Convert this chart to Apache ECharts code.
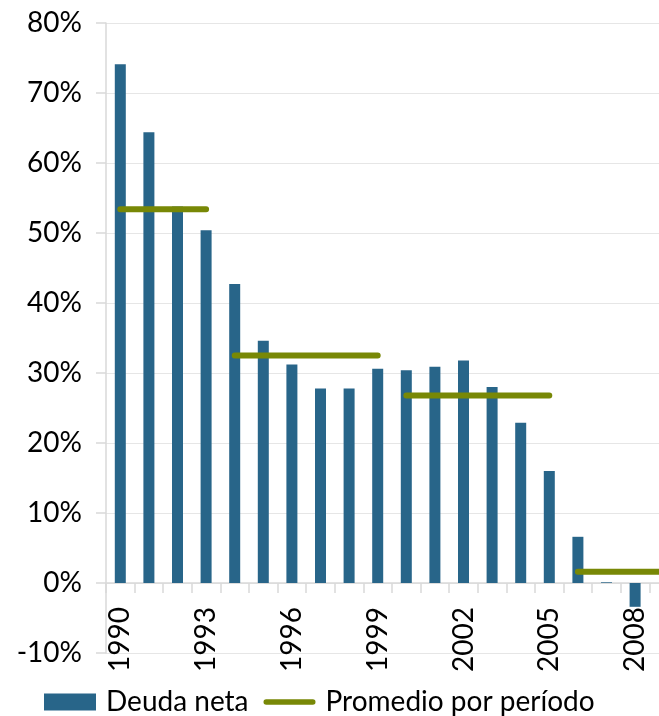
<!DOCTYPE html>
<html>
<head>
<meta charset="utf-8">
<script src="https://cdn.jsdelivr.net/npm/echarts@6/dist/echarts.min.js"></script>
<style>
html,body{margin:0;padding:0;background:#fff;}
#chart{width:659px;height:716px;}
</style>
</head>
<body>
<div id="chart"></div>
<script>
var years = ['1990','1991','1992','1993','1994','1995','1996','1997','1998','1999','2000','2001','2002','2003','2004','2005','2006','2007','2008','2009'];
var deudaNeta = [74.1, 64.4, 53.8, 50.4, 42.7, 34.6, 31.2, 27.8, 27.8, 30.6, 30.4, 30.9, 31.8, 28.0, 22.9, 16.0, 6.6, 0.1, -3.4, null];
var periodStart = ['1990','1994','2000','2006'];
var periodEnd = ['1993','1999','2005','2009'];
var periodAvg = [53.4, 32.5, 26.8, 1.6];
var yTicks = {min: -10, max: 80, interval: 10};

var FONT = 'Lato';
var barColor = '#286589';
var lineColor = '#788806';
var axisGray = '#d9d9d9';

var series = [{
  name: 'Deuda neta',
  type: 'bar',
  data: deudaNeta,
  barWidth: 11,
  itemStyle: {color: barColor},
  z: 2
}];
periodAvg.forEach(function (v, i) {
  var s = years.indexOf(periodStart[i]);
  var e = years.indexOf(periodEnd[i]);
  var d = years.map(function (y, k) { return (k >= s && k <= e) ? v : null; });
  series.push({
    name: 'Promedio por período',
    type: 'line',
    data: d,
    showSymbol: false,
    symbol: 'none',
    connectNulls: false,
    lineStyle: {color: lineColor, width: 6, cap: 'round'},
    itemStyle: {color: lineColor},
    z: 3
  });
});

var chart = echarts.init(document.getElementById('chart'), null, {renderer: 'canvas'});
chart.setOption({
  animation: false,
  backgroundColor: '#fff',
  grid: {left: 106, right: -19, top: 23, bottom: 63, containLabel: false, outerBoundsMode: 'none'},
  legend: {
    left: 39, top: 683,
    itemWidth: 52, itemHeight: 17, itemGap: 15,
    textStyle: {fontFamily: FONT, fontSize: 28, lineHeight: 25, color: '#000', padding: [0, 0, 0, 5]},
    data: [
      {name: 'Deuda neta', icon: 'rect'},
      {name: 'Promedio por período', icon: 'path://M3,0 L55,0 A3,3 0 0 1 55,6 L3,6 A3,3 0 0 1 3,0 Z', itemStyle: {color: lineColor}}
    ]
  },
  xAxis: {
    type: 'category',
    data: years,
    boundaryGap: true,
    axisLine: {onZero: true, lineStyle: {color: axisGray, width: 1.5}},
    axisTick: {show: true, alignWithLabel: false, interval: 0, length: 10, lineStyle: {color: axisGray, width: 1.5}},
    axisLabel: {interval: 2, rotate: 90, margin: -46, fontFamily: FONT, fontSize: 28, color: '#000'},
    splitLine: {show: false}
  },
  yAxis: {
    type: 'value',
    min: yTicks.min, max: yTicks.max, interval: yTicks.interval,
    axisLine: {show: true, lineStyle: {color: axisGray, width: 1.5}},
    axisTick: {show: true, length: 10, lineStyle: {color: axisGray, width: 1.5}},
    axisLabel: {formatter: '{value}%', margin: 24, fontFamily: FONT, fontSize: 28, color: '#000'},
    splitLine: {show: true, lineStyle: {color: '#e6e6e6', width: 1}}
  },
  series: series
});
</script>
</body>
</html>
